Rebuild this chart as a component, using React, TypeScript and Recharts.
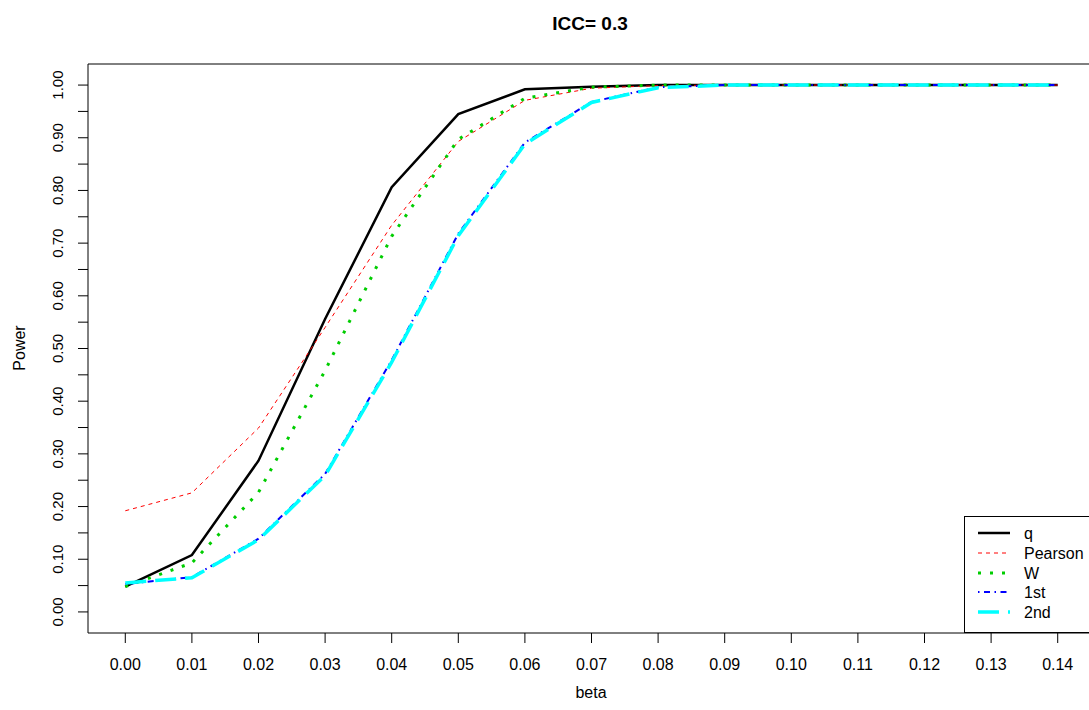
import React from 'react';
import { LineChart, Line, XAxis, YAxis, ReferenceArea } from 'recharts';

const beta = [0, 0.01, 0.02, 0.03, 0.04, 0.05, 0.06, 0.07, 0.08, 0.09, 0.1, 0.11, 0.12, 0.13, 0.14];
const qPower = [0.048, 0.108, 0.287, 0.556, 0.806, 0.945, 0.992, 0.997, 1, 1, 1, 1, 1, 1, 1];
const pearsonPower = [0.192, 0.226, 0.349, 0.54, 0.734, 0.893, 0.971, 0.994, 0.999, 1, 1, 1, 1, 1, 1];
const wPower = [0.048, 0.093, 0.227, 0.458, 0.713, 0.897, 0.975, 0.996, 1, 1, 1, 1, 1, 1, 1];
const firstPower = [0.053, 0.066, 0.139, 0.262, 0.478, 0.718, 0.891, 0.968, 0.996, 1, 1, 1, 1, 1, 1];
const secondPower = [0.055, 0.065, 0.137, 0.259, 0.474, 0.714, 0.888, 0.967, 0.995, 1, 1, 1, 1, 1, 1];

const xTicks = [0, 0.01, 0.02, 0.03, 0.04, 0.05, 0.06, 0.07, 0.08, 0.09, 0.1, 0.11, 0.12, 0.13, 0.14];
const yTicks = [0, 0.05, 0.1, 0.15, 0.2, 0.25, 0.3, 0.35, 0.4, 0.45, 0.5, 0.55, 0.6, 0.65, 0.7, 0.75, 0.8, 0.85, 0.9, 0.95, 1];
const yLabelled = [0, 0.1, 0.2, 0.3, 0.4, 0.5, 0.6, 0.7, 0.8, 0.9, 1];

const series = [
  { key: 'q', name: 'q', color: '#000000', width: 2.5, dash: undefined },
  { key: 'pearson', name: 'Pearson', color: '#ff0000', width: 1, dash: '4 4' },
  { key: 'w', name: 'W', color: '#00cd00', width: 3, dash: '3 9' },
  { key: 'first', name: '1st', color: '#0000ff', width: 2, dash: '1.5 4.5 6 4.5' },
  { key: 'second', name: '2nd', color: '#00ffff', width: 3.5, dash: '21 9' },
];

const data = beta.map((b, i) => ({
  beta: b,
  q: qPower[i],
  pearson: pearsonPower[i],
  w: wPower[i],
  first: firstPower[i],
  second: secondPower[i],
}));

const FONT = '"Liberation Sans", Arial, Helvetica, sans-serif';

const XTick = ({ x, payload }: any) => (
  <text x={x} y={670} textAnchor="middle" fontSize={16} fontFamily={FONT} fill="#000">
    {Number(payload.value).toFixed(2)}
  </text>
);

const YTick = ({ y, payload }: any) => {
  const v = Number(payload.value);
  if (!yLabelled.some((l) => Math.abs(l - v) < 1e-6)) return <g />;
  return (
    <text
      x={63}
      y={y}
      textAnchor="middle"
      fontSize={15}
      fontFamily={FONT}
      fill="#000"
      transform={`rotate(-90, 63, ${y})`}
    >
      {v.toFixed(2)}
    </text>
  );
};

const LegendBox = () => (
  <div
    style={{
      position: 'absolute',
      left: 964,
      top: 516,
      width: 140,
      height: 117,
      border: '1px solid #000',
      background: '#fff',
      boxSizing: 'border-box',
    }}
  >
    <svg width={140} height={117} style={{ display: 'block' }}>
      {series.map((s, i) => {
        const cy = [16, 36, 56, 75, 95][i];
        return (
          <g key={s.key}>
            <line x1={13} x2={45} y1={cy} y2={cy} stroke={s.color} strokeWidth={s.width} strokeDasharray={s.dash} />
            <text x={59} y={cy + 5.5} fontSize={16} fontFamily={FONT} fill="#000">
              {s.name}
            </text>
          </g>
        );
      })}
    </svg>
  </div>
);

export default function App() {
  return (
    <div style={{ position: 'absolute', left: 0, top: 0, width: 1089, height: 710, background: '#fff', overflow: 'hidden' }}>
      <LineChart width={1089} height={710} data={data} margin={{ top: 64, right: -6, bottom: 0, left: 0 }}>
        <XAxis
          dataKey="beta"
          type="number"
          domain={[-0.0056, 0.1456]}
          ticks={xTicks}
          interval={0}
          height={77}
          axisLine={false}
          tickSize={10}
          tickLine={{ stroke: '#000' }}
          tick={<XTick />}
          allowDataOverflow
        />
        <YAxis
          type="number"
          domain={[-0.04, 1.04]}
          ticks={yTicks}
          interval={0}
          width={88}
          axisLine={false}
          tickSize={10}
          tickLine={{ stroke: '#000' }}
          tick={<YTick />}
          allowDataOverflow
        />
        <ReferenceArea
          x1={-0.0056}
          x2={0.1456}
          y1={-0.04}
          y2={1.04}
          fill="none"
          stroke="#000"
          strokeWidth={1}
          ifOverflow="visible"
        />
        {series.map((s) => (
          <Line
            key={s.key}
            type="linear"
            dataKey={s.key}
            name={s.name}
            stroke={s.color}
            strokeWidth={s.width}
            strokeDasharray={s.dash}
            dot={false}
            activeDot={false}
            isAnimationActive={false}
          />
        ))}
      </LineChart>
      <LegendBox />
      <svg
        width={1089}
        height={710}
        style={{ position: 'absolute', left: 0, top: 0, pointerEvents: 'none' }}
      >
        <text x={590} y={30} textAnchor="middle" fontSize={19} fontWeight="bold" fontFamily={FONT} fill="#000">
          ICC= 0.3
        </text>
        <text x={591} y={698} textAnchor="middle" fontSize={16} fontFamily={FONT} fill="#000">
          beta
        </text>
        <text
          x={25}
          y={348}
          textAnchor="middle"
          fontSize={16}
          fontFamily={FONT}
          fill="#000"
          transform="rotate(-90, 25, 348)"
        >
          Power
        </text>
      </svg>
    </div>
  );
}
